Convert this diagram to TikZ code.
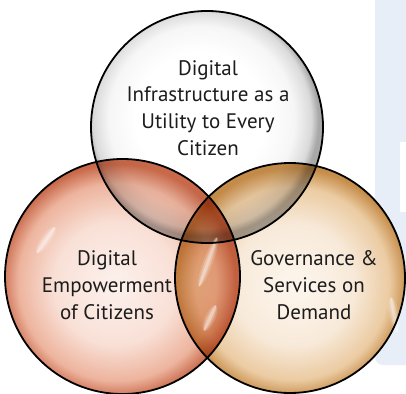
\documentclass[tikz,border=0pt]{standalone}
\usepackage{fontspec}
\setmainfont{PT Sans}
\usetikzlibrary{shapes.geometric}
\definecolor{bandblue}{HTML}{E8EEF7}
\definecolor{tA}{HTML}{FFFFFF}
\definecolor{tB}{HTML}{F6F6F6}
\definecolor{tC}{HTML}{DADADA}
\definecolor{tD}{HTML}{A8A8A8}
\definecolor{lA}{HTML}{FCF1ED}
\definecolor{lB}{HTML}{F9E0D6}
\definecolor{lC}{HTML}{EDB49E}
\definecolor{lD}{HTML}{C8694A}
\definecolor{rA}{HTML}{FDF6EE}
\definecolor{rB}{HTML}{F8EADA}
\definecolor{rC}{HTML}{EBCBA2}
\definecolor{rD}{HTML}{C68D4A}
\definecolor{txt}{HTML}{1C1C1C}
\pgfdeclareradialshading{topsh}{\pgfpoint{-2bp}{3bp}}{color(0bp)=(tA); color(14bp)=(tA); color(20bp)=(tB); color(23.5bp)=(tC); color(25bp)=(tD); color(50bp)=(tD)}
\pgfdeclareradialshading{leftsh}{\pgfpoint{-2bp}{-2bp}}{color(0bp)=(lA); color(13bp)=(lB); color(21bp)=(lC); color(25bp)=(lD); color(50bp)=(lD)}
\pgfdeclareradialshading{rightsh}{\pgfpoint{1bp}{-2bp}}{color(0bp)=(rA); color(13bp)=(rB); color(21bp)=(rC); color(25bp)=(rD); color(50bp)=(rD)}
\tikzset{
  ring/.style={draw=black, line width=1.8pt},
  label/.style={align=center, text=txt, font=\fontsize{21}{26.7}\selectfont, inner sep=0pt},
  gloss/.style={fill=white, fill opacity=0.35, draw=none}
}
\begin{document}
\begin{tikzpicture}[x=1pt,y=-1pt]
\useasboundingbox (0,0) rectangle (406,393);
\fill[white] (0,0) rectangle (406,393);
% background band
\fill[bandblue, rounded corners=8pt] (375,-10) -- (375,365) -- (416,365) -- (416,-10) -- cycle;
\fill[white] (400,142) rectangle (410,212);
\coordinate (ct) at (207,127);
\coordinate (cl) at (122.5,276.5);
\coordinate (cr) at (290,278);
\begin{scope}[blend group=multiply]
  \shade[shading=topsh] (ct) circle[radius=116];
  \shade[shading=leftsh] (cl) circle[radius=117.5];
  \shade[shading=rightsh] (cr) circle[radius=115];
\end{scope}
% glossy highlights
\foreach \w/\o in {5/0.15,3/0.25,1.5/0.3}{
  \fill[gloss, fill opacity=\o, rotate around={-35:(46,240)}] (46,240) ellipse[x radius=\w, y radius=16];
  \fill[gloss, fill opacity=\o, rotate around={-20:(208,262)}] (208,262) ellipse[x radius=\w, y radius=26];
  \fill[gloss, fill opacity=\o, rotate around={-25:(210,318)}] (210,318) ellipse[x radius=\w, y radius=14];
  \fill[gloss, fill opacity=\o, rotate around={10:(394,315)}] (394,315) ellipse[x radius=\w, y radius=18];
}
% outlines
\draw[ring] (ct) circle[radius=116];
\draw[ring] (cl) circle[radius=117.5];
\draw[ring] (cr) circle[radius=115];
% texts
\node[label] (ttop) at (208,108) {Digital\\Infrastructure as a\\Utility to Every\\Citizen};
\node[label] (tleft) at (107,285) {Digital\\Empowerment\\of Citizens};
\node[label] (tright) at (314,285) {Governance \&\\Services on\\Demand};
\end{tikzpicture}
\end{document}
